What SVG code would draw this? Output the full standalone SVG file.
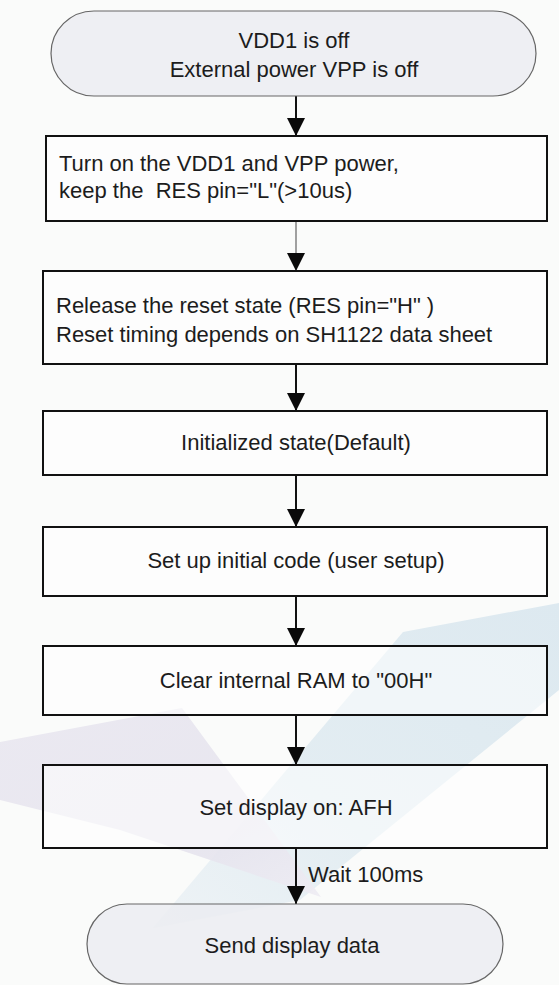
<svg xmlns="http://www.w3.org/2000/svg" width="559" height="985" viewBox="0 0 559 985">
  <defs>
    <style>
      .t { font-family: "Liberation Sans", Arial, Helvetica, sans-serif; font-size: 22px; fill: #1c1c1c; }
      .c { text-anchor: middle; }
      .box { fill: #ffffff; fill-opacity: 0.55; stroke: #111111; stroke-width: 2; }
      .term { fill: #ebecf1; fill-opacity: 0.85; stroke: #666666; stroke-width: 1.2; }
      .edge { stroke: #111111; stroke-width: 2; fill: none; marker-end: url(#ah); }
      .edge-gray { stroke: #8a8a8a; stroke-width: 1.6; fill: none; marker-end: url(#ah); }
    </style>
    <marker id="ah" markerWidth="18" markerHeight="18" refX="18" refY="9" orient="auto" markerUnits="userSpaceOnUse">
      <path d="M0,0 L18,9 L0,18 z" fill="#0a0a0a"/>
    </marker>
    <linearGradient id="wmBlue" x1="1" y1="0" x2="0" y2="1">
      <stop offset="0" stop-color="#dde9f0"/>
      <stop offset="0.6" stop-color="#e3edf2"/>
      <stop offset="1" stop-color="#eef3f6"/>
    </linearGradient>
    <linearGradient id="wmLav" x1="0" y1="0" x2="1" y2="1">
      <stop offset="0" stop-color="#e9e7f0"/>
      <stop offset="0.7" stop-color="#e6e4ee"/>
      <stop offset="1" stop-color="#eeecf3"/>
    </linearGradient>
  </defs>

  <rect x="0" y="0" width="559" height="985" fill="#fafbfa"/>

  <g id="watermark">
    <polygon points="403,632 559,603 559,690 300,900 153,928" fill="url(#wmBlue)"/>
    <polygon points="0,742 182,708 321,897 120,830 0,800" fill="url(#wmLav)" opacity="0.9"/>
  </g>

  <g id="connectors">
    <line class="edge" x1="296" y1="96" x2="296" y2="136"/>
    <line class="edge-gray" x1="296" y1="221" x2="296" y2="271"/>
    <line class="edge" x1="296" y1="364" x2="296" y2="411"/>
    <line class="edge" x1="296" y1="475" x2="296" y2="527"/>
    <line class="edge" x1="296" y1="596" x2="296" y2="646"/>
    <line class="edge" x1="296" y1="715" x2="296" y2="765"/>
    <line class="edge" x1="296" y1="848" x2="296" y2="904"/>
    <text class="t" x="308" y="882">Wait 100ms</text>
  </g>

  <g id="start">
    <rect class="term" x="51" y="11" width="485" height="85" rx="43" ry="43"/>
    <text class="t c" x="294" y="48">VDD1 is off</text>
    <text class="t c" x="294" y="77">External power VPP is off</text>
  </g>

  <g id="power-on">
    <rect class="box" x="46" y="136" width="501" height="85"/>
    <text class="t" x="59" y="171">Turn on the VDD1 and VPP power,</text>
    <text class="t" x="59" y="198" xml:space="preserve">keep the  RES pin="L"(&gt;10us)</text>
  </g>

  <g id="release-reset">
    <rect class="box" x="43" y="271" width="504" height="93"/>
    <text class="t" x="56" y="313" xml:space="preserve">Release the reset state (RES pin="H" )</text>
    <text class="t" x="56" y="342">Reset timing depends on SH1122 data sheet</text>
  </g>

  <g id="initialized">
    <rect class="box" x="43" y="411" width="504" height="64"/>
    <text class="t c" x="296" y="450">Initialized state(Default)</text>
  </g>

  <g id="initial-code">
    <rect class="box" x="43" y="527" width="504" height="69"/>
    <text class="t c" x="296" y="568">Set up initial code (user setup)</text>
  </g>

  <g id="clear-ram">
    <rect class="box" x="43" y="646" width="504" height="69"/>
    <text class="t c" x="296" y="688">Clear internal RAM to "00H"</text>
  </g>

  <g id="display-on">
    <rect class="box" x="43" y="765" width="504" height="83"/>
    <text class="t c" x="296" y="815">Set display on: AFH</text>
  </g>

  <g id="send-data">
    <rect class="term" x="87" y="904" width="416" height="80" rx="40" ry="40"/>
    <text class="t c" x="292" y="953">Send display data</text>
  </g>
</svg>
